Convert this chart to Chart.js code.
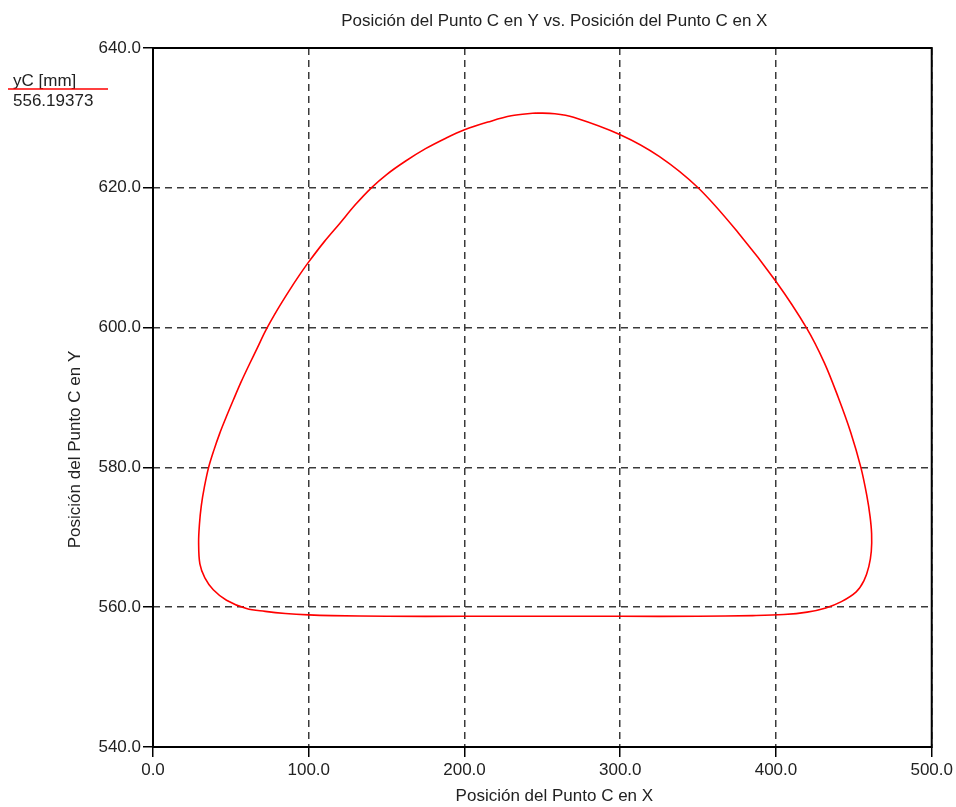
<!DOCTYPE html>
<html lang="es">

<head>
    <meta charset="UTF-8">
    <title>Posición del Punto C</title>
    <style>
        body { margin: 0; background: #fff; }
        #wrap { width: 956px; height: 807px; }
    </style>
</head>

<body>
    <div id="wrap">
        <canvas id="myChart" width="956" height="807"></canvas>
    </div>

    <script src="https://cdn.jsdelivr.net/npm/chart.js"></script>
    <script>
        // posicion del punto C (mm), recorrido en sentido horario desde arriba
        const xC = [246, 258, 270, 300, 325, 350, 376, 400, 419.5, 431, 440,
            448, 454.5, 458.3, 460.4, 461.4, 461.2, 459.6, 456.5, 451.5, 442,
            432, 420, 405, 385, 350, 300, 250, 200, 150, 115,
            100, 85, 72, 60, 47.2, 38.7, 33.3, 30.1,
            29.3, 29.8, 31.0, 33.0, 35.6, 39, 42.9, 47, 51.5, 56.5,
            62.2, 67, 72.4, 80, 87.8, 94, 100, 110, 119.9, 130,
            140.2, 150, 162, 175, 188, 200, 215, 230, 246];
        const yC = [630.7, 630.6, 630.1, 627.6, 624.5, 620.0, 613.5, 606.6, 600.0, 595.0, 590.0,
            585.0, 580.0, 576.0, 573.0, 570.5, 568.0, 565.8, 563.8, 562.2, 560.8,
            559.9, 559.3, 558.95, 558.8, 558.7, 558.7, 558.7, 558.7, 558.7, 558.8,
            558.9, 559.1, 559.4, 559.8, 561.0, 562.5, 564.2, 566.2,
            569.3, 571.8, 574.5, 577.2, 579.9, 582.4, 584.9, 587.2, 589.6, 592.2,
            594.9, 597.1, 599.6, 602.6, 605.4, 607.5, 609.4, 612.3, 614.9, 617.6,
            620.0, 621.9, 623.8, 625.6, 627.1, 628.3, 629.4, 630.3, 630.7];

        const xTicks = [0, 100, 200, 300, 400, 500];
        const yTicks = [540, 560, 580, 600, 620, 640];

        const titleText = 'Posición del Punto C en Y vs. Posición del Punto C en X';
        const xTitle = 'Posición del Punto C en X';
        const yTitle = 'Posición del Punto C en Y';
        const legendName = 'yC [mm]';
        const legendValue = '556.19373';

        const FONT = '17px "Liberation Sans", Arial, sans-serif';
        const TXT = '#222';

        // marco, titulos y leyenda
        const extras = {
            id: 'extras',
            afterDraw(chart) {
                const { ctx, chartArea: a } = chart;
                ctx.save();
                ctx.strokeStyle = '#000';
                ctx.lineWidth = 2;
                ctx.setLineDash([]);
                ctx.strokeRect(a.left, a.top, a.right - a.left, a.bottom - a.top);

                ctx.fillStyle = TXT;
                ctx.font = FONT;
                ctx.textAlign = 'center';
                ctx.textBaseline = 'middle';
                const cx = (a.left + a.right) / 2 + 12;
                ctx.fillText(titleText, cx, 21);
                ctx.fillText(xTitle, cx, 796);

                ctx.save();
                ctx.translate(75, (a.top + a.bottom) / 2 + 52);
                ctx.rotate(-Math.PI / 2);
                ctx.fillText(yTitle, 0, 0);
                ctx.restore();

                // leyenda
                ctx.textAlign = 'left';
                ctx.fillText(legendName, 13, 81);
                ctx.fillText(legendValue, 13, 101);
                ctx.strokeStyle = 'rgb(255,0,0)';
                ctx.lineWidth = 1.5;
                ctx.beginPath();
                ctx.moveTo(8, 89);
                ctx.lineTo(108, 89);
                ctx.stroke();
                ctx.restore();
            }
        };

        const gridOpts = {
            color: '#3a3a3a',
            lineWidth: 1.5,
            tickLength: 10,
            tickColor: '#000',
            tickWidth: 1.5,
            tickBorderDash: []
        };
        const borderOpts = { display: false, dash: [7, 5] };
        const tickFont = { family: '"Liberation Sans", Arial', size: 17 };

        const ctx = document.getElementById('myChart');

        const chart = new Chart(ctx, {
            type: 'scatter',
            data: {
                datasets: [{
                    label: legendName,
                    data: xC.map((x, i) => ({ x: x, y: yC[i] })),
                    showLine: true,
                    borderColor: 'rgb(255,0,0)',
                    borderWidth: 1.6,
                    pointRadius: 0,
                    tension: 0.35,
                    fill: false
                }]
            },
            options: {
                responsive: false,
                animation: false,
                layout: { padding: { left: 0, right: 23, top: 48, bottom: 0 } },
                plugins: {
                    legend: { display: false },
                    title: { display: false },
                    tooltip: { enabled: false }
                },
                scales: {
                    x: {
                        type: 'linear',
                        min: xTicks[0],
                        max: xTicks[xTicks.length - 1],
                        afterBuildTicks: s => { s.ticks = xTicks.map(v => ({ value: v })); },
                        afterFit: s => { s.height = 60; },
                        grid: gridOpts,
                        border: borderOpts,
                        ticks: {
                            color: TXT,
                            font: tickFont,
                            padding: 3,
                            maxRotation: 0,
                            callback: v => v.toFixed(1)
                        }
                    },
                    y: {
                        type: 'linear',
                        min: yTicks[0],
                        max: yTicks[yTicks.length - 1],
                        afterBuildTicks: s => { s.ticks = yTicks.map(v => ({ value: v })); },
                        afterFit: s => { s.width = 153; },
                        grid: gridOpts,
                        border: borderOpts,
                        ticks: {
                            color: TXT,
                            font: tickFont,
                            padding: 2,
                            callback: v => v.toFixed(1)
                        }
                    }
                }
            },
            plugins: [extras]
        });
    </script>

</body>

</html>
